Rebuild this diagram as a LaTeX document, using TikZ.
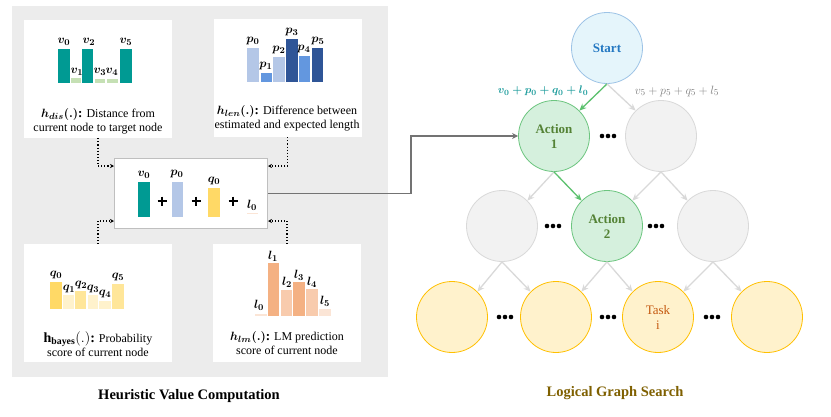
\documentclass[tikz,border=0pt]{standalone}
\usepackage{amsmath,bm}
\usepackage{fontspec}
\setmainfont{Liberation Serif}
\usetikzlibrary{arrows.meta,calc}
\definecolor{panel}{HTML}{ECECEC}
\definecolor{teal1}{HTML}{009A93}
\definecolor{lgreen}{HTML}{C5E0B4}
\definecolor{pl}{HTML}{B4C7E7}
\definecolor{pm}{HTML}{6397DF}
\definecolor{pd}{HTML}{2F5597}
\definecolor{qd}{HTML}{FFD966}
\definecolor{qm}{HTML}{FFE699}
\definecolor{ql}{HTML}{FFF2CC}
\definecolor{ld}{HTML}{F4B183}
\definecolor{lm}{HTML}{F8CBAD}
\definecolor{ll}{HTML}{FBE5D6}
\definecolor{boxb}{HTML}{BFBFBF}
\definecolor{sfill}{HTML}{E5F5FB}
\definecolor{sdraw}{HTML}{9DC3E6}
\definecolor{stext}{HTML}{2478C2}
\definecolor{afill}{HTML}{D5F0DD}
\definecolor{adraw}{HTML}{6CC57F}
\definecolor{atext}{HTML}{548235}
\definecolor{gfill}{HTML}{F2F2F2}
\definecolor{gdraw}{HTML}{D9D9D9}
\definecolor{yfill}{HTML}{FFF2CC}
\definecolor{ydraw}{HTML}{FFC000}
\definecolor{ttext}{HTML}{C55A11}
\definecolor{garrow}{HTML}{5CC16E}
\definecolor{title2}{HTML}{7F6000}
\definecolor{sumteal}{HTML}{1A9B9B}
\tikzset{
  lab/.style={font=\fontsize{13}{13}\selectfont\boldmath, inner sep=0pt},
  capt/.style={font=\fontsize{12}{14}\selectfont, align=center, inner sep=0pt},
  wbox/.style={fill=white, draw=none, minimum width=148pt, minimum height=118pt, inner sep=0pt},
  dotc/.style={dotted, line width=1.1pt, -{Stealth[length=4pt,width=4pt]}},
  conn/.style={line width=1.6pt, draw=black!55, -{Stealth[length=6pt,width=6pt]}},
  gnode/.style={circle, minimum size=71pt, inner sep=0pt, line width=0.8pt, align=center, font=\fontsize{13}{15}\selectfont\bfseries},
  startn/.style={gnode, fill=sfill, draw=sdraw, text=stext},
  actn/.style={gnode, fill=afill, draw=adraw, text=atext},
  grayn/.style={gnode, fill=gfill, draw=gdraw},
  yeln/.style={gnode, fill=yfill, draw=ydraw},
  garr/.style={line width=1.3pt, draw=gdraw, -{Stealth[length=7pt,width=6pt]}},
  greenarr/.style={line width=1.3pt, draw=garrow, -{Stealth[length=7pt,width=6pt]}},
  plusbar/.style={line width=2.6pt},
  titlef/.style={inner sep=0pt, font=\fontsize{14.5}{14.5}\selectfont\bfseries}
}
\newcommand\threedots[1]{\foreach \dx in {-6,0,6}{\fill ($(#1)+(\dx,0)$) circle (2.3);}}
\newcommand\plussign[1]{\draw[plusbar] ($(#1)+(-4.5,0)$) -- ($(#1)+(4.5,0)$); \draw[plusbar] ($(#1)+(0,-4.5)$) -- ($(#1)+(0,4.5)$);}
\begin{document}
\begin{tikzpicture}[x=1pt,y=-1pt]
\useasboundingbox[fill=white] (0,0) rectangle (831,416);
% panel
\fill[panel] (12,6) rectangle (388,377);
% white boxes
\node[wbox] (tl) at (98,79) {};
\node[wbox] (tr) at (287.5,78) {};
\node[wbox] (bl) at (98,303) {};
\node[wbox] (br) at (287,303) {};
% v bars
\fill[teal1] (58,49) rectangle (70,83);
\fill[lgreen] (71,78) rectangle (81,83);
\fill[teal1] (82,49) rectangle (93,83);
\fill[lgreen] (95,79) rectangle (105,83);
\fill[lgreen] (107,79) rectangle (118,83);
\fill[teal1] (120,49) rectangle (132,83);
\node[lab] (v0) at (64,42) {$v_0$};
\node[lab] (v1) at (77,72) {$v_1$};
\node[lab] (v2) at (89,42) {$v_2$};
\node[lab] (v3) at (100,72) {$v_3$};
\node[lab] (v4) at (112,72) {$v_4$};
\node[lab] (v5) at (126,42) {$v_5$};
\node[capt] (c1) at (98,121) {{\fontsize{13}{13}\selectfont$\bm{h_{dis}(.)}$\textbf{:}} Distance from\\current node to target node};
% p bars
\fill[pl] (247,48) rectangle (259,82);
\fill[pm] (261,73) rectangle (272,82);
\fill[pl] (273,57) rectangle (285,82);
\fill[pd] (286,39) rectangle (298,82);
\fill[pm] (299,56) rectangle (310,82);
\fill[pd] (312,48) rectangle (323,82);
\node[lab] (p0) at (253,41) {$p_0$};
\node[lab] (p1) at (266,66) {$p_1$};
\node[lab] (p2) at (279,50) {$p_2$};
\node[lab] (p3) at (292,32) {$p_3$};
\node[lab] (p4) at (304,49) {$p_4$};
\node[lab] (p5) at (318,41) {$p_5$};
\node[capt] (c2) at (287,118) {{\fontsize{13}{13}\selectfont$\bm{h_{len}(.)}$\textbf{:}} Difference between\\estimated and expected length};
% q bars
\fill[qd] (50,282) rectangle (62,309);
\fill[ql] (63,295) rectangle (74,309);
\fill[qm] (75,291) rectangle (86,309);
\fill[ql] (88,295) rectangle (98,309);
\fill[ql] (99,301) rectangle (111,309);
\fill[qm] (112,284) rectangle (124,309);
\node[lab] (q0) at (56,275) {$q_0$};
\node[lab] (q1) at (69,289) {$q_1$};
\node[lab] (q2) at (81,285) {$q_2$};
\node[lab] (q3) at (93,289) {$q_3$};
\node[lab] (q4) at (105,294) {$q_4$};
\node[lab] (q5) at (118,277) {$q_5$};
\node[capt] (c3) at (98,344) {{\fontsize{14}{14}\selectfont$\mathbf{h_{bayes}(.)}$\textbf{:}} Probability\\score of current node};
% l bars
\fill[ll] (255,314) rectangle (267,316);
\fill[ld] (268,263) rectangle (279,316);
\fill[lm] (281,290) rectangle (292,316);
\fill[ld] (293,282) rectangle (305,316);
\fill[lm] (306,289) rectangle (318,316);
\fill[ll] (319,309) rectangle (331,316);
\node[lab] (l0) at (259,305) {$l_0$};
\node[lab] (l1) at (273,256) {$l_1$};
\node[lab] (l2) at (287,282) {$l_2$};
\node[lab] (l3) at (299,275) {$l_3$};
\node[lab] (l4) at (312,282) {$l_4$};
\node[lab] (l5) at (325,301) {$l_5$};
\node[capt] (c4) at (287,343) {{\fontsize{13}{13}\selectfont$\bm{h_{lm}(.)}$\textbf{:}} LM prediction\\score of current node};
% center box
\node[draw=boxb, line width=1.8pt, fill=white, minimum width=153pt, minimum height=70pt, inner sep=0pt] (cbox) at (191,193.5) {};
\fill[teal1] (138,182) rectangle (150,217);
\node[lab] (cv0) at (144,175) {$v_0$};
\coordinate (pl1) at (162,201);
\fill[pl] (172,182) rectangle (183,217);
\node[lab] (cp0) at (177,174) {$p_0$};
\coordinate (pl2) at (196,201);
\fill[qd] (208,188) rectangle (220,217);
\node[lab] (cq0) at (214,181) {$q_0$};
\coordinate (pl3) at (233,201);
\fill[ll] (247,212.5) rectangle (258,214);
\node[lab] (cl0) at (252,205) {$l_0$};
\plussign{pl1}\plussign{pl2}\plussign{pl3}
% dotted connectors
\coordinate (d1) at (114,166);
\coordinate (d2) at (114,221);
\coordinate (d3) at (268,166);
\coordinate (d4) at (268,221);
\draw[dotc] (tl.south) |- (d1);
\draw[dotc] (bl.north) |- (d2);
\draw[dotc] (tr.south) |- (d3);
\draw[dotc] (br.north) |- (d4);
% graph
\node[startn] (s) at (607,48) {Start};
\node[actn] (a1) at (554,136) {Action\\1};
\node[grayn] (g1) at (661,136) {};
\node[grayn] (g2) at (502,226) {};
\node[actn] (a2) at (607,226) {Action\\2};
\node[grayn] (g3) at (713,226) {};
\node[yeln] (y1) at (452,317) {};
\node[yeln] (y2) at (556,317) {};
\node[yeln, font=\fontsize{13}{15}\selectfont, text=ttext] (y3) at (658,317) {Task\\i};
\node[yeln] (y4) at (767,317) {};
\coordinate (bend) at (411,193.5);
\draw[conn] (cbox.east) -- (bend) |- (a1.west);
\draw[greenarr] (s.south) -- (a1.north east);
\draw[garr] (s.south) -- (g1.north west);
\draw[garr] (a1.south) -- (g2.north east);
\draw[greenarr] (a1.south) -- (a2.north west);
\draw[garr] (g1.south) -- (a2.north east);
\draw[garr] (g1.south) -- (g3.north west);
\draw[garr] (g2.south) -- (y1.north east);
\draw[garr] (g2.south) -- (y2.north west);
\draw[garr] (a2.south) -- (y2.north east);
\draw[garr] (a2.south) -- (y3.north west);
\draw[garr] (g3.south) -- (y3.north east);
\draw[garr] (g3.south) -- (y4.north west);
\node[inner sep=0pt, text=sumteal, font=\fontsize{11}{11}\selectfont\boldmath] (sum1) at (543,91) {$v_0+p_0+q_0+l_0$};
\node[inner sep=0pt, text=black!50, font=\fontsize{12.5}{12.5}\selectfont] (sum2) at (677,91) {$v_5+p_5+q_5+l_5$};
\coordinate (e1) at (608,136);
\coordinate (e2) at (553,226);
\coordinate (e3) at (656,226);
\coordinate (e4) at (505,317);
\coordinate (e5) at (608,317);
\coordinate (e6) at (712,317);
\threedots{e1}\threedots{e2}\threedots{e3}\threedots{e4}\threedots{e5}\threedots{e6}
% titles
\node[titlef] (t1) at (189,396) {Heuristic Value Computation};
\node[titlef, text=title2] (t2) at (615,393) {Logical Graph Search};
\end{tikzpicture}
\end{document}
